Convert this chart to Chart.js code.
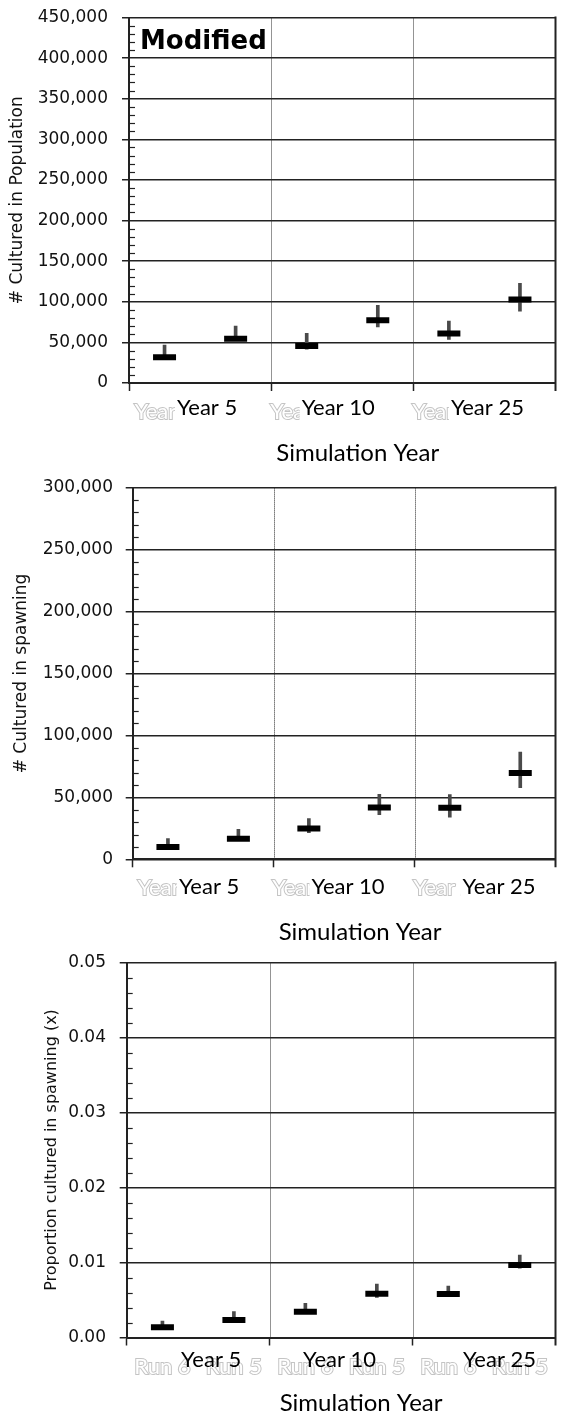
<!DOCTYPE html>
<html>
<head>
<meta charset="utf-8">
<script src="https://cdn.jsdelivr.net/npm/chart.js@4.4.1/dist/chart.umd.min.js"></script>
<style>
  html, body { margin: 0; padding: 0; background: #fff; }
  .panel { position: absolute; left: 0; width: 573px; }
</style>
</head>
<body>
<div class="panel" style="top:0;height:470px"><canvas id="c1"></canvas></div>
<div class="panel" style="top:470px;height:475px"><canvas id="c2"></canvas></div>
<div class="panel" style="top:945px;height:473px"><canvas id="c3"></canvas></div>
<script>
// Category labels under each run position, and the year groups they belong to
const yearRunLabels = ['Year 5', '', 'Year 10', '', 'Year 25', ''];
const runLabels = ['Run 6', 'Run 5', 'Run 6', 'Run 5', 'Run 6', 'Run 5'];
const yearGroups = ['Year 5', 'Year 10', 'Year 25'];

// Number of cultured fish in the population (mean, lower, upper)
const popMean = [31700, 54400, 45500, 77200, 61000, 102800];
const popLow  = [29500, 52000, 41500, 69000, 53700, 88500];
const popHigh = [46700, 70200, 61000, 95500, 76300, 122700];

// Number of cultured fish in the spawning run
const spawnMean = [9900, 16500, 24800, 41900, 41700, 69600];
const spawnLow  = [8500, 15000, 21500, 36000, 34100, 57800];
const spawnHigh = [16700, 24200, 32800, 52400, 52200, 86500];

// Proportion of cultured fish in the spawning run
const propMean = [0.00136, 0.00233, 0.00344, 0.00584, 0.00580, 0.00967];
const propLow  = [0.00120, 0.00210, 0.00320, 0.00536, 0.00550, 0.00923];
const propHigh = [0.00220, 0.00344, 0.00456, 0.00713, 0.00687, 0.01100];

const INK = '#222';

function isMajor(v, step) {
  const r = v / step;
  return Math.abs(r - Math.round(r)) < 1e-6;
}

// Frame, year separators, inner minor ticks and the year-group captions
function framePlugin(p) {
  return {
    id: 'frame',
    beforeDatasetsDraw(chart) {
      const { ctx, chartArea: a, scales: { x, y } } = chart;
      ctx.save();
      ctx.strokeStyle = '#2a2a2a';
      ctx.lineWidth = 1;
      ctx.setLineDash([1, 1]);
      for (let i = 2; i < x.ticks.length; i += 2) {
        const px = Math.round((x.getPixelForTick(i - 1) + x.getPixelForTick(i)) / 2) + 0.5;
        ctx.beginPath(); ctx.moveTo(px, a.top); ctx.lineTo(px, a.bottom); ctx.stroke();
      }
      ctx.setLineDash([]);
      ctx.strokeStyle = INK;
      ctx.lineWidth = 2;
      ctx.beginPath(); ctx.moveTo(a.right, a.top - 1); ctx.lineTo(a.right, a.bottom + 8); ctx.stroke();
      ctx.lineWidth = 1.2;
      y.ticks.forEach(t => {
        if (isMajor(t.value, p.major)) return;
        const py = Math.round(y.getPixelForValue(t.value)) + 0.5;
        ctx.beginPath(); ctx.moveTo(a.left, py); ctx.lineTo(a.left + 6, py); ctx.stroke();
      });
      ctx.restore();
    },
    afterDraw(chart) {
      const { ctx, chartArea: a, scales: { x } } = chart;
      ctx.save();
      ctx.textAlign = 'center';
      ctx.textBaseline = 'middle';
      ctx.font = '22px Lato';
      yearGroups.forEach((g, k) => {
        const cx = (x.getPixelForTick(2 * k) + x.getPixelForTick(2 * k + 1)) / 2 + p.groupDx[k];
        const cy = a.bottom + p.groupDy;
        if (p.whiteBg) {
          const w = ctx.measureText(g).width;
          ctx.fillStyle = '#fff';
          ctx.fillRect(cx - w / 2 - 2, cy - 12, w + 4, 24);
        }
        ctx.fillStyle = '#000';
        ctx.fillText(g, cx, cy);
      });
      ctx.font = '24px Lato';
      ctx.fillStyle = '#000';
      ctx.fillText('Simulation Year', (a.left + a.right) / 2 + p.titleDx, a.bottom + p.titleDy);
      if (p.caption) {
        ctx.textAlign = 'left';
        ctx.textBaseline = 'alphabetic';
        ctx.font = 'bold 26px "DejaVu Sans"';
        ctx.fillText(p.caption, a.left + 11, a.top + 31);
      }
      ctx.restore();
    }
  };
}

function makeChart(id, labels, mean, low, high, p) {
  const transparent = 'rgba(0,0,0,0)';
  return new Chart(document.getElementById(id), {
    type: 'bar',
    data: {
      labels: labels,
      datasets: [
        {
          type: 'line',
          label: 'Mean',
          data: mean,
          showLine: false,
          pointStyle: 'line',
          pointRadius: 11.5,
          pointHoverRadius: 11.5,
          pointBorderWidth: 6,
          pointBorderColor: '#000',
          borderColor: '#000',
          backgroundColor: '#000',
          order: 0
        },
        {
          type: 'bar',
          label: 'Range',
          data: low.map((l, i) => [l, high[i]]),
          backgroundColor: '#4a4a4a',
          borderWidth: 0,
          barThickness: 3,
          order: 1
        }
      ]
    },
    options: {
      responsive: true,
      maintainAspectRatio: false,
      animation: false,
      layout: { padding: { top: p.padTop, right: p.padRight, left: 0, bottom: 0 } },
      plugins: { legend: { display: false }, tooltip: { enabled: false } },
      scales: {
        x: {
          offset: true,
          afterFit: s => {
            s.height = p.xHeight;
            s.paddingLeft = 0; s.paddingRight = 0; s.paddingTop = 0; s.paddingBottom = 0;
          },
          grid: {
            display: true,
            offset: true,
            drawOnChartArea: false,
            tickLength: 8,
            tickWidth: 1.5,
            tickColor: c => (c.index % 2 === 0 ? INK : transparent)
          },
          border: { display: true, color: INK, width: 2 },
          ticks: {
            color: '#ffffff',
            textStrokeColor: '#c4c4c4',
            textStrokeWidth: 2,
            font: { family: 'Lato', size: 22 },
            padding: p.xPad,
            maxRotation: 0,
            autoSkip: false
          }
        },
        y: {
          min: 0,
          max: p.max,
          afterFit: s => {
            s.width = p.yWidth;
            s.paddingLeft = 0; s.paddingRight = 0; s.paddingTop = 0; s.paddingBottom = 0;
          },
          ticks: {
            stepSize: p.minor,
            autoSkip: false,
            callback: v => (isMajor(v, p.major) ? p.fmt(v) : ''),
            font: { family: 'DejaVu Sans', size: 17 },
            color: '#111',
            padding: p.yPad
          },
          grid: {
            color: c => (c.tick && isMajor(c.tick.value, p.major) ? INK : transparent),
            tickColor: c => (c.tick && isMajor(c.tick.value, p.major) ? INK : transparent),
            tickLength: 7,
            lineWidth: 1.5
          },
          border: { color: INK, width: 2 },
          title: {
            display: true,
            text: p.yTitle,
            color: '#111',
            font: { family: 'DejaVu Sans', size: p.yTitleSize },
            padding: { top: p.yTitlePad, bottom: 0 }
          }
        }
      }
    },
    plugins: [framePlugin(p)]
  });
}

const thousands = v => Math.round(v).toLocaleString('en-US');

makeChart('c1', yearRunLabels, popMean, popLow, popHigh, {
  padTop: 14, padRight: 7, yWidth: 129, xHeight: 87,
  max: 450000, minor: 10000, major: 50000, fmt: thousands,
  yPad: 14, xPad: 8, yTitle: '# Cultured in Population', yTitleSize: 17, yTitlePad: 7.8,
  groupDx: [7, -4, 3], groupDy: 25, titleDx: 15.5, titleDy: 70, whiteBg: true,
  caption: 'Modified'
});

makeChart('c2', yearRunLabels, spawnMean, spawnLow, spawnHigh, {
  padTop: 17.6, padRight: 6.3, yWidth: 132.7, xHeight: 85.7,
  max: 300000, minor: 10000, major: 50000, fmt: thousands,
  yPad: 12.7, xPad: 7, yTitle: '# Cultured in spawning', yTitleSize: 17, yTitlePad: 11.8,
  groupDx: [6, 4, 14], groupDy: 27.5, titleDx: 16, titleDy: 72.5, whiteBg: true,
  caption: ''
});

makeChart('c3', runLabels, propMean, propLow, propHigh, {
  padTop: 17.3, padRight: 4.7, yWidth: 126.7, xHeight: 80.5,
  max: 0.05, minor: 0.002, major: 0.01, fmt: v => v.toFixed(2),
  yPad: 13.7, xPad: 8.5, yTitle: 'Proportion cultured in spawning (x)', yTitleSize: 16, yTitlePad: 42.4,
  groupDx: [13, -1.5, 15.5], groupDy: 22.5, titleDx: 20, titleDy: 65.5, whiteBg: false,
  caption: ''
});
</script>
</body>
</html>
